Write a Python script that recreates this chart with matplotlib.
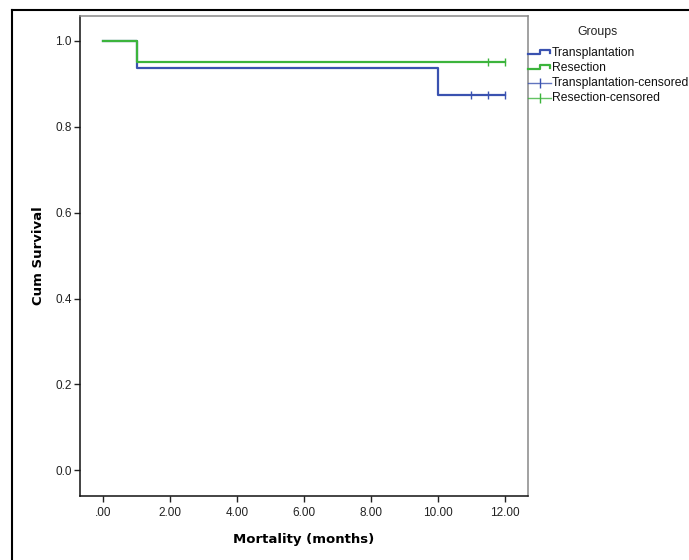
import matplotlib
matplotlib.use("Agg")
import matplotlib.pyplot as plt
from matplotlib.lines import Line2D

plt.rcParams['font.family'] = ['Liberation Sans', 'DejaVu Sans']

# Data
groups = ["Transplantation", "Resection"]
trans_times = [0.0, 1.0, 10.0, 12.0]
trans_surv = [1.0, 0.9375, 0.875, 0.875]
trans_cens_t = [11.0, 11.5, 12.0]
trans_cens_s = [0.875, 0.875, 0.875]
res_times = [0.0, 1.0, 12.0]
res_surv = [1.0, 0.95, 0.95]
res_cens_t = [11.5, 12.0]
res_cens_s = [0.95, 0.95]
xticks = [0, 2, 4, 6, 8, 10, 12]
xtick_labels = [".00", "2.00", "4.00", "6.00", "8.00", "10.00", "12.00"]
yticks = [0.0, 0.2, 0.4, 0.6, 0.8, 1.0]
ytick_labels = ["0.0", "0.2", "0.4", "0.6", "0.8", "1.0"]

blue = "#3a52b0"
green = "#3cb43c"

W, H = 689, 560
fig = plt.figure(figsize=(W / 100, H / 100), dpi=100)
ax = fig.add_axes([80 / W, 1 - 496 / H, (528 - 80) / W, (496 - 16) / H])

ax.step(trans_times, trans_surv, where="post", color=blue, lw=1.6)
ax.step(res_times, res_surv, where="post", color=green, lw=1.6)
ax.plot(trans_cens_t, trans_cens_s, ls="none", marker="|", ms=5.5, mew=1.0, color=blue)
ax.plot(res_cens_t, res_cens_s, ls="none", marker="|", ms=5.5, mew=1.0, color=green)

ax.set_xlim(-0.69, 12.69)
ax.set_ylim(-0.06, 1.058)
ax.set_xticks(xticks)
ax.set_xticklabels(xtick_labels)
ax.set_yticks(yticks)
ax.set_yticklabels(ytick_labels)
ax.tick_params(direction="out", length=4.5, width=1, labelsize=8.5, colors="#222222", pad=1.5)
ax.tick_params(axis="x", pad=3.5)
for s in ["left", "bottom"]:
    ax.spines[s].set_color("#111111")
    ax.spines[s].set_linewidth(1.1)
for s in ["top", "right"]:
    ax.spines[s].set_color("#888888")
    ax.spines[s].set_linewidth(1.1)

ax.set_xlabel("Mortality (months)", fontsize=9.5, fontweight="bold", labelpad=10,
              family=["DejaVu Sans"])
ax.set_ylabel("Cum Survival", fontsize=9.5, fontweight="bold", labelpad=7,
              family=["DejaVu Sans"])

# Outer frame (top and left edges)
fig.add_artist(Line2D([12 / W, 12 / W], [0, 1 - 10 / H], transform=fig.transFigure, color="black", lw=1.5))
fig.add_artist(Line2D([12 / W, 1], [1 - 10 / H, 1 - 10 / H], transform=fig.transFigure, color="black", lw=1.5))

# Legend (drawn in figure pixel coordinates)
def fx(px):
    return px / W

def fy(py):
    return 1 - py / H

fig.text(fx(597), fy(32), "Groups", ha="center", va="center", fontsize=8.8, color="#222222")
ys = [53, 68, 83, 98]
labels = ["Transplantation", "Resection", "Transplantation-censored", "Resection-censored"]
cols = [blue, green, blue, green]
for i, (y, lab, c) in enumerate(zip(ys, labels, cols)):
    if i < 2:
        xs = [528, 540, 540, 550, 550]
        yy = [y + 1, y + 1, y - 3, y - 3, y]
        fig.add_artist(Line2D([fx(v) for v in xs], [fy(v) for v in yy], transform=fig.transFigure, color=c, lw=1.6))
    else:
        fig.add_artist(Line2D([fx(528), fx(551)], [fy(y), fy(y)], transform=fig.transFigure, color=c, lw=1.0, alpha=0.8))
        fig.add_artist(Line2D([fx(539.5)], [fy(y)], transform=fig.transFigure, color=c, marker="|", ms=7, mew=1.0, ls="none"))
    fig.text(fx(552), fy(y), lab, ha="left", va="center", fontsize=8.7, color="#111111")

fig.savefig("out.png", dpi=100, facecolor="white")
